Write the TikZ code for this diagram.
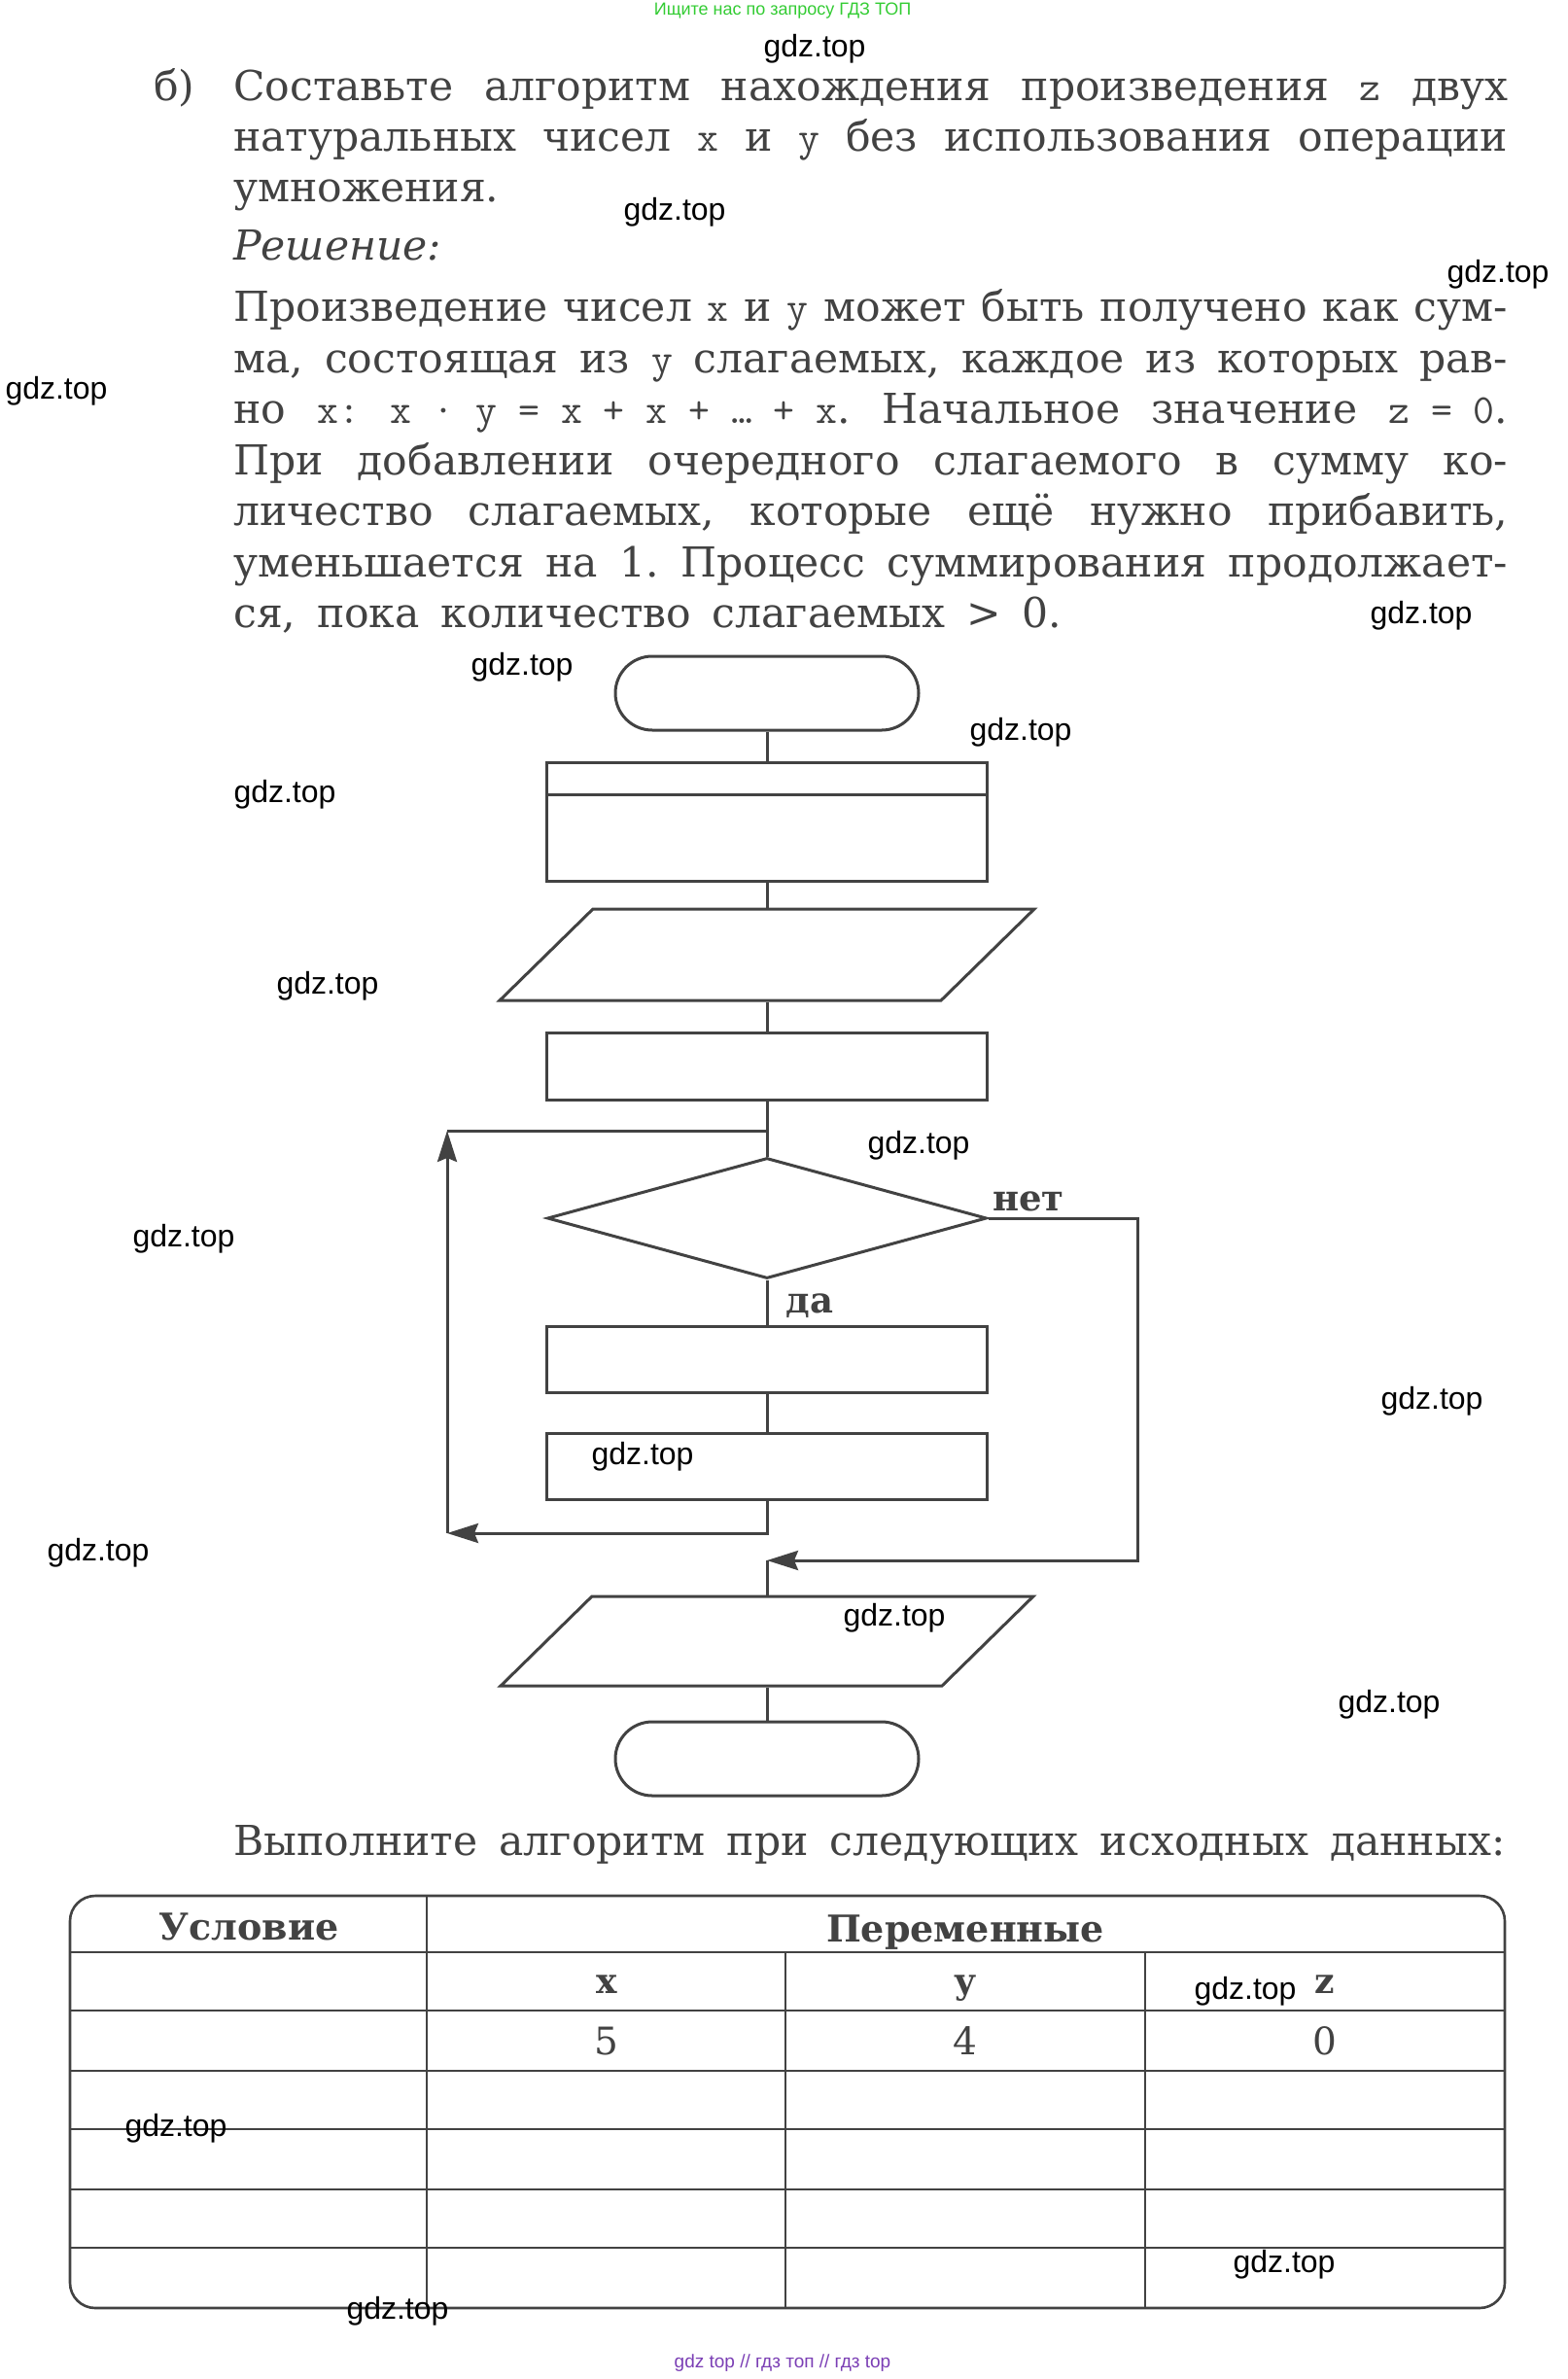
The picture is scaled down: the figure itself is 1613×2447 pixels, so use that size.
\documentclass[tikz,border=0pt]{standalone}
\usepackage{fontspec}
\setmainfont{DejaVu Serif}
\newfontfamily\marcafont{Liberation Sans}
\usetikzlibrary{arrows.meta,shapes.geometric}

\definecolor{tinta}{HTML}{424242}
\definecolor{verdemarca}{HTML}{33CC33}
\definecolor{moradomarca}{HTML}{7B3FB5}
\newcommand{\letra}[1]{{\ttfamily #1}}
\frenchspacing

\begin{document}
\begin{tikzpicture}[x=1pt, y=-1pt,
    linea/.style={draw=tinta, line width=3pt},
    flecha/.style={linea, -{Stealth[length=32pt,width=20pt,inset=4pt]}},
    bloque/.style={linea, rectangle, minimum width=453pt, inner sep=0pt},
    terminal/.style={linea, rectangle, rounded corners=38pt, minimum width=312pt, minimum height=76pt, inner sep=0pt},
    rombo/.style={linea, diamond, minimum width=452pt, minimum height=124pt, inner sep=0pt},
    texto/.style={anchor=base west, inner sep=0pt, text=tinta, font=\fontsize{42.5}{48}\selectfont},
    marca/.style={font=\marcafont\fontsize{32}{36}\selectfont, text=black, inner sep=0pt},
    etiqueta/.style={anchor=base, inner sep=0pt, text=tinta, font=\bfseries\fontsize{36}{40}\selectfont},
    celda/.style={anchor=base, inner sep=0pt, text=tinta, font=\fontsize{39}{44}\selectfont}]

    % Fondo y margenes
    \fill[white] (0,0) rectangle (1613,2447);
    \useasboundingbox (0,0) rectangle (1613,2447);

    % Enunciado
    \node[texto] (inciso) at (158,103) {б)};
    \node[texto] (enun1) at (240,103) {\makebox[1311pt][s]{Составьте алгоритм нахождения произведения \letra{z} двух}};
    \node[texto] (enun2) at (240,155) {\makebox[1311pt][s]{натуральных чисел \letra{x} и \letra{y} без использования операции}};
    \node[texto] (enun3) at (240,207) {умножения.};
    \node[texto, font=\itshape\fontsize{42.5}{48}\selectfont] (solucion) at (240,267) {Решение:};

    % Solucion
    \node[texto] (sol1) at (240,330) {\makebox[1311pt][s]{Произведение чисел \letra{x} и \letra{y} может быть получено как сум-}};
    \node[texto] (sol2) at (240,383) {\makebox[1311pt][s]{ма, состоящая из \letra{y} слагаемых, каждое из которых рав-}};
    \node[texto] (sol3) at (240,435) {\makebox[1311pt][s]{но \letra{x:} \letra{x · y = x + x + … + x}. Начальное значение \letra{z = 0}.}};
    \node[texto] (sol4) at (240,488) {\makebox[1311pt][s]{При добавлении очередного слагаемого в сумму ко-}};
    \node[texto] (sol5) at (240,540) {\makebox[1311pt][s]{личество слагаемых, которые ещё нужно прибавить,}};
    \node[texto] (sol6) at (240,593) {\makebox[1311pt][s]{уменьшается на 1. Процесс суммирования продолжает-}};
    \node[texto] (sol7) at (240,645) {\makebox[852pt][s]{ся, пока количество слагаемых > 0.}};

    % Bloques del diagrama
    \node[terminal] (inicio) at (789,713) {};
    \node[bloque, minimum height=122pt] (datos) at (789,845) {};
    \draw[linea] ([yshift=-35pt]datos.north west) -- ([yshift=-35pt]datos.north east);
    \begin{scope}[shift={(789,982)}, xslant=1.02]
        \node[linea, transform shape, minimum width=454pt, minimum height=94pt, inner sep=0pt] (entrada) at (0,0) {};
    \end{scope}
    \node[bloque, minimum height=69pt] (asigna) at (789,1097) {};
    \node[rombo] (cond) at (789,1253) {};
    \node[bloque, minimum height=68pt] (suma) at (789,1398) {};
    \node[bloque, minimum height=68pt] (resta) at (789,1508) {};
    \begin{scope}[shift={(789,1688)}, xslant=1.02]
        \node[linea, transform shape, minimum width=454pt, minimum height=92pt, inner sep=0pt] (salida) at (0,0) {};
    \end{scope}
    \node[terminal] (fin) at (789,1809) {};

    % Puntos de los ciclos
    \coordinate (cicloabajo) at (460,1577);
    \coordinate (cicloarriba) at (460,1163);
    \coordinate (noderecha) at (1170,1605);
    \coordinate (union) at (789,1605);

    % Conexiones
    \draw[linea] (inicio.south) -- (datos.north);
    \draw[linea] (datos.south) -- (datos.south |- entrada.north);
    \draw[linea] (asigna.north |- entrada.south) -- (asigna.north);
    \draw[linea] (asigna.south) -- (cond.north);
    \draw[linea] (cond.south) -- (suma.north);
    \draw[linea] (suma.south) -- (resta.north);
    \draw[flecha] (resta.south) |- (cicloabajo);
    \draw[flecha] (cicloabajo) -- (cicloarriba);
    \draw[linea] (cicloarriba) -- (cicloarriba -| cond.north);
    \draw[flecha] (cond.east) -| (noderecha) -- (union);
    \draw[linea] (union) -- (union |- salida.north);
    \draw[linea] (fin.north |- salida.south) -- (fin.north);

    % Etiquetas de las ramas
    \node[etiqueta, font=\bfseries\fontsize{37}{40}\selectfont] (no) at (1058,1245) {нет};
    \node[etiqueta, font=\bfseries\fontsize{37}{40}\selectfont] (si) at (833,1350) {да};

    % Tabla
    \node[texto] (ejecuta) at (240,1908) {\makebox[1308pt][s]{Выполните алгоритм при следующих исходных данных:}};
    \draw[linea, line width=2.6pt, rounded corners=26pt] (72,1950) rectangle (1548,2374);
    \draw[linea, line width=2.6pt] (439,1950) -- (439,2374);
    \foreach \fila in {2008,2068,2130,2190,2252,2312}
        \draw[linea, line width=2.6pt] (72,\fila) -- (1548,\fila);
    \foreach \col in {808,1178}
        \draw[linea, line width=2.6pt] (\col,2008) -- (\col,2374);
    \node[etiqueta, font=\bfseries\fontsize{38}{40}\selectfont] (condicion) at (256,1995) {Условие};
    \node[etiqueta, font=\bfseries\fontsize{38}{40}\selectfont] (variables) at (993,1997) {Переменные};
    \node[etiqueta] (varx) at (624,2050) {x};
    \node[etiqueta] (vary) at (993,2050) {y};
    \node[etiqueta] (varz) at (1363,2050) {z};
    \node[celda] (valx) at (624,2113) {5};
    \node[celda] (valy) at (993,2113) {4};
    \node[celda] (valz) at (1363,2113) {0};

    % Marcas de agua
    \node[font=\marcafont\fontsize{18}{22}\selectfont, text=verdemarca] (aviso) at (805,11) {Ищите нас по запросу ГДЗ ТОП};
    \node[font=\marcafont\fontsize{19}{22}\selectfont, text=moradomarca] (pie) at (805,2431) {gdz top // гдз топ // гдз top};
    \foreach \mx/\my [count=\i] in {838/50, 694/218, 1541/282, 58/402, 1462/633, 537/686, 1050/753,
        293/817, 337/1014, 945/1178, 189/1274, 1473/1441, 661/1498, 101/1597, 920/1664, 1429/1753,
        1281/2048, 181/2189, 1321/2329, 409/2377}
        \node[marca] (marca\i) at (\mx,\my) {gdz.top};
\end{tikzpicture}
\end{document}
